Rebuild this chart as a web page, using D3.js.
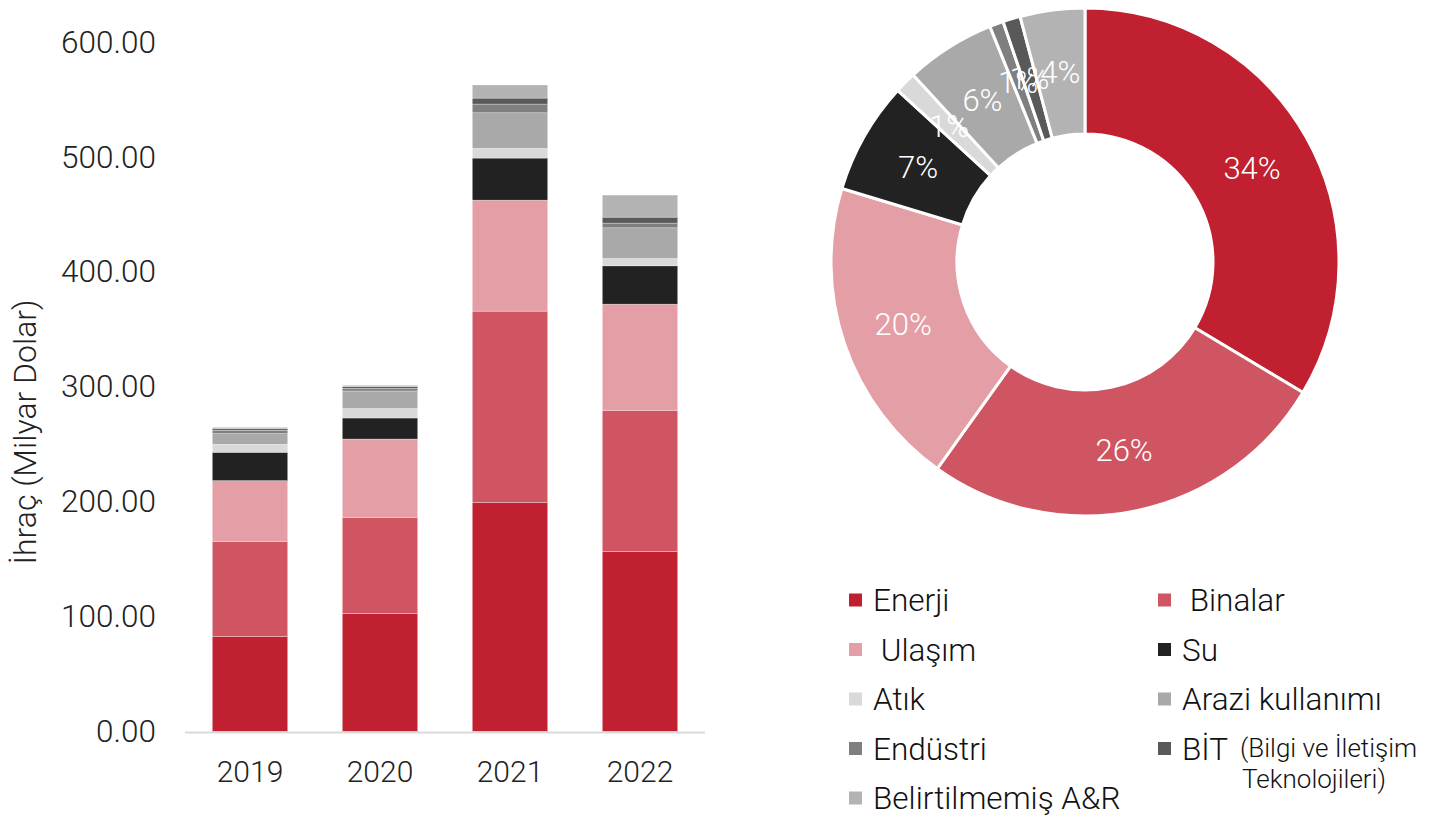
<!DOCTYPE html>
<html>
<head>
<meta charset="utf-8">
<script src="https://cdn.jsdelivr.net/npm/d3@7"></script>
<style>
  body { margin: 0; background: #fff; }
  text { font-family: Roboto, "Noto Sans", sans-serif; }
</style>
</head>
<body>
<div class="chart"></div>
<script>
// yearly exports by sector (billion USD)
var years = ["2019", "2020", "2021", "2022"];
var categories = ["Enerji", " Binalar", " Ulaşım", "Su", "Atık", "Arazi kullanımı", "Endüstri", "BİT", "Belirtilmemiş A&R"];
var colors = ["#c0202f", "#cf5562", "#e49ea5", "#222222", "#d9d9d9", "#a9a9a9", "#7f7f7f", "#595959", "#b3b3b3"];

var enerji = [82.7, 102.8, 199.4, 156.8];
var binalar = [82.8, 83.6, 166.4, 122.7];
var ulasim = [52.8, 68.1, 96.6, 92.4];
var su = [24.7, 18.3, 36.6, 33.3];
var atik = [6.9, 8.2, 8.4, 6.4];
var arazi = [9.3, 15.3, 31.0, 26.7];
var endustri = [2.9, 2.4, 7.6, 4.1];
var bit = [1.3, 1.3, 5.2, 5.2];
var belirtilmemis = [1.3, 1.3, 11.4, 19.2];

var yTicks = [0, 100, 200, 300, 400, 500, 600];

var series = [enerji, binalar, ulasim, su, atik, arazi, endustri, bit, belirtilmemis];

var svg = d3.select(".chart")
    .append("svg")
    .attr("width", 1449)
    .attr("height", 817)

// ---- stacked bars ----
var rows = years.map(function (y, i) {
    var r = { year: y }
    categories.forEach(function (c, k) { r[c] = series[k][i] })
    return r
})

var stack = d3.stack().keys(categories)(rows)

var x = d3.scaleBand()
    .domain(years)
    .range([185, 705])
    .paddingInner(0.42)
    .paddingOuter(0.21)

var y = d3.scaleLinear()
    .domain([0, 600])
    .range([731.5, 42])

stack.forEach(function (layer, k) {
    svg.append("g")
        .selectAll("rect")
        .data(layer)
        .enter()
        .append("rect")
        .attr("x", function (d) { return x(d.data.year) })
        .attr("y", function (d) { return y(d[1]) })
        .attr("width", x.bandwidth())
        .attr("height", function (d) { return y(d[0]) - y(d[1]) })
        .style("fill", colors[k])
        .style("stroke", "#fff")
        .style("stroke-width", 0.5)
        .style("stroke-opacity", 0.6)
})

svg.append("line")
    .attr("x1", 185)
    .attr("x2", 705)
    .attr("y1", y(0) + 1)
    .attr("y2", y(0) + 1)
    .style("stroke", "#d9d9d9")
    .style("stroke-width", 2)

var yAxis = svg.append("g")
    .attr("transform", "translate(156,0)")
    .call(d3.axisLeft(y).tickValues(yTicks).tickFormat(d3.format(".2f")).tickSize(0).tickPadding(0))
yAxis.select(".domain").remove()
yAxis.selectAll("text")
    .style("font-size", "31.5px")
    .style("font-weight", 300)
    .style("font-family", "Roboto, sans-serif")
    .attr("fill", "#222")

var xAxis = svg.append("g")
    .attr("transform", "translate(0," + (y(0) + 1) + ")")
    .call(d3.axisBottom(x).tickSize(0).tickPadding(28))
xAxis.select(".domain").remove()
xAxis.selectAll("text")
    .style("font-size", "30px")
    .style("font-weight", 300)
    .style("font-family", "Roboto, sans-serif")
    .attr("fill", "#222")

svg.append("text")
    .attr("transform", "translate(36,432) rotate(-90)")
    .attr("text-anchor", "middle")
    .attr("textLength", 265)
    .attr("lengthAdjust", "spacingAndGlyphs")
    .style("font-size", "31px")
    .style("font-weight", 300)
    .attr("fill", "#222")
    .text("İhraç (Milyar Dolar)")

// ---- donut: 2022 shares ----
var last = years.length - 1
var pieData = categories.map(function (c, k) { return { name: c, value: series[k][last], color: colors[k] } })
var total = d3.sum(pieData, function (d) { return d.value })

var pie = d3.pie().sort(null).value(function (d) { return d.value })
var arc = d3.arc().innerRadius(128).outerRadius(254)
var labelArc = d3.arc().innerRadius(192).outerRadius(192)

var donut = svg.append("g").attr("transform", "translate(1085,262)")

donut.selectAll("path")
    .data(pie(pieData))
    .enter()
    .append("path")
    .attr("d", arc)
    .style("fill", function (d) { return d.data.color })
    .style("stroke", "#fff")
    .style("stroke-width", 3)

donut.selectAll("text")
    .data(pie(pieData))
    .enter()
    .append("text")
    .attr("transform", function (d) { return "translate(" + labelArc.centroid(d) + ")" })
    .attr("text-anchor", "middle")
    .attr("dy", "0.36em")
    .style("font-size", "31px")
    .style("font-weight", 300)
    .attr("fill", "#fff")
    .text(function (d) { return d3.format(".0%")(d.data.value / total) })

// ---- legend ----
var legend = svg.append("g")
categories.forEach(function (c, k) {
    var col = k % 2
    var row = Math.floor(k / 2)
    var lx = col === 0 ? 849 : 1158
    var ly = 600 + row * 49.5
    legend.append("rect")
        .attr("x", lx)
        .attr("y", ly - 6.5)
        .attr("width", 13)
        .attr("height", 13)
        .attr("fill", colors[k])
    legend.append("text")
        .attr("x", lx + 24)
        .attr("y", ly + 11)
        .style("font-size", "31.5px")
        .style("font-weight", 300)
        .style("white-space", "pre")
        .attr("fill", "#111")
        .text(c)
})

svg.append("text")
    .attr("x", 1240)
    .attr("y", 757)
    .style("font-size", "26px")
    .style("font-weight", 300)
    .attr("fill", "#111")
    .text("(Bilgi ve İletişim")

svg.append("text")
    .attr("x", 1314)
    .attr("y", 788)
    .attr("text-anchor", "middle")
    .style("font-size", "26px")
    .style("font-weight", 300)
    .attr("fill", "#111")
    .text("Teknolojileri)")
</script>
</body>
</html>
